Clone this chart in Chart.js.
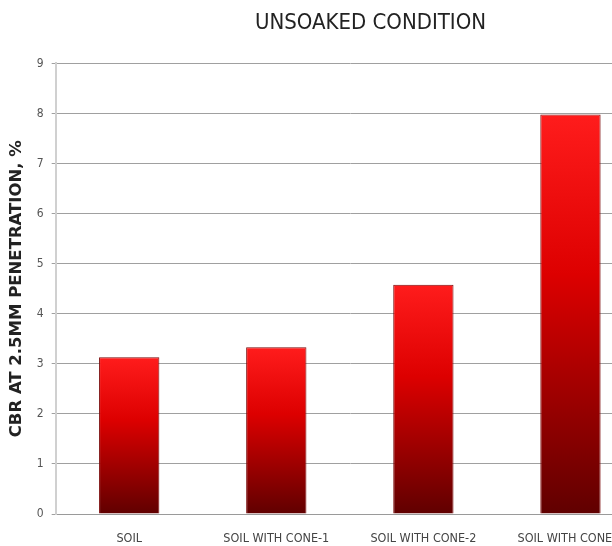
<!DOCTYPE html>
<html>
<head>
<meta charset="utf-8">
<script src="https://cdn.jsdelivr.net/npm/chart.js@4/dist/chart.umd.min.js"></script>
<style>
  html, body { margin: 0; padding: 0; background: #fff; overflow: hidden; }
  #wrap { width: 612px; height: 546px; overflow: hidden; }
</style>
</head>
<body>
<div id="wrap"><canvas id="chart" width="742" height="546"></canvas></div>
<script>
var categories = ["SOIL", "SOIL WITH CONE-1", "SOIL WITH CONE-2", "SOIL WITH CONE-3"];
var cbrValues = [3.13, 3.33, 4.58, 7.98];
var yTicks = [0, 1, 2, 3, 4, 5, 6, 7, 8, 9];

var narrow = "'Liberation Sans Narrow', 'DejaVu Sans Condensed', sans-serif";

// each bar gets its own gradient, bright red on top, dark at the base
function barFill(ctx) {
  var chart = ctx.chart;
  var yScale = chart.scales.y;
  if (!chart.chartArea || !yScale) return "#d00";
  var top = yScale.getPixelForValue(cbrValues[ctx.dataIndex]);
  var bottom = yScale.getPixelForValue(0);
  var g = chart.ctx.createLinearGradient(0, top, 0, bottom);
  g.addColorStop(0, "#ff1c1c");
  g.addColorStop(0.4, "#dd0000");
  g.addColorStop(1, "#600000");
  return g;
}

new Chart(document.getElementById("chart"), {
  type: "bar",
  data: {
    labels: categories,
    datasets: [{
      data: cbrValues,
      backgroundColor: barFill,
      borderColor: "#7a0a0a",
      borderWidth: 1,
      barPercentage: 0.41,
      categoryPercentage: 1
    }]
  },
  options: {
    responsive: false,
    animation: false,
    layout: { padding: { left: 7, right: 8, bottom: 0 } },
    plugins: {
      legend: { display: false },
      tooltip: { enabled: false },
      title: {
        display: true,
        text: "UNSOAKED CONDITION",
        color: "#222",
        font: { family: narrow, size: 22, weight: "normal" },
        padding: { top: 10, bottom: 27 }
      }
    },
    scales: {
      x: {
        grid: { display: false, drawTicks: false },
        border: { color: "#9a9a9a" },
        afterFit: function (s) { s.height = 32; },
        ticks: {
          color: "#444",
          padding: 17,
          maxRotation: 0,
          autoSkip: false,
          font: { family: narrow, size: 12.5 }
        }
      },
      y: {
        min: 0,
        max: 9,
        afterBuildTicks: function (axis) {
          axis.ticks = yTicks.map(function (v) { return { value: v }; });
        },
        grid: { color: "#a0a0a0", tickLength: 4 },
        border: { color: "#d0d0d0", width: 2 },
        ticks: {
          color: "#555",
          padding: 8,
          font: { family: narrow, size: 12 }
        },
        title: {
          display: true,
          text: "CBR AT 2.5MM PENETRATION, %",
          color: "#222",
          font: { family: "'DejaVu Sans', sans-serif", size: 16.5, weight: "bold" },
          padding: { top: 0, bottom: 2 }
        }
      },
      // empty right axis only to push the plot past the visible edge
      yRight: {
        position: "right",
        grid: { display: false },
        border: { display: false },
        ticks: { display: false },
        afterFit: function (s) { s.width = 90; }
      }
    }
  }
});
</script>
</body>
</html>
